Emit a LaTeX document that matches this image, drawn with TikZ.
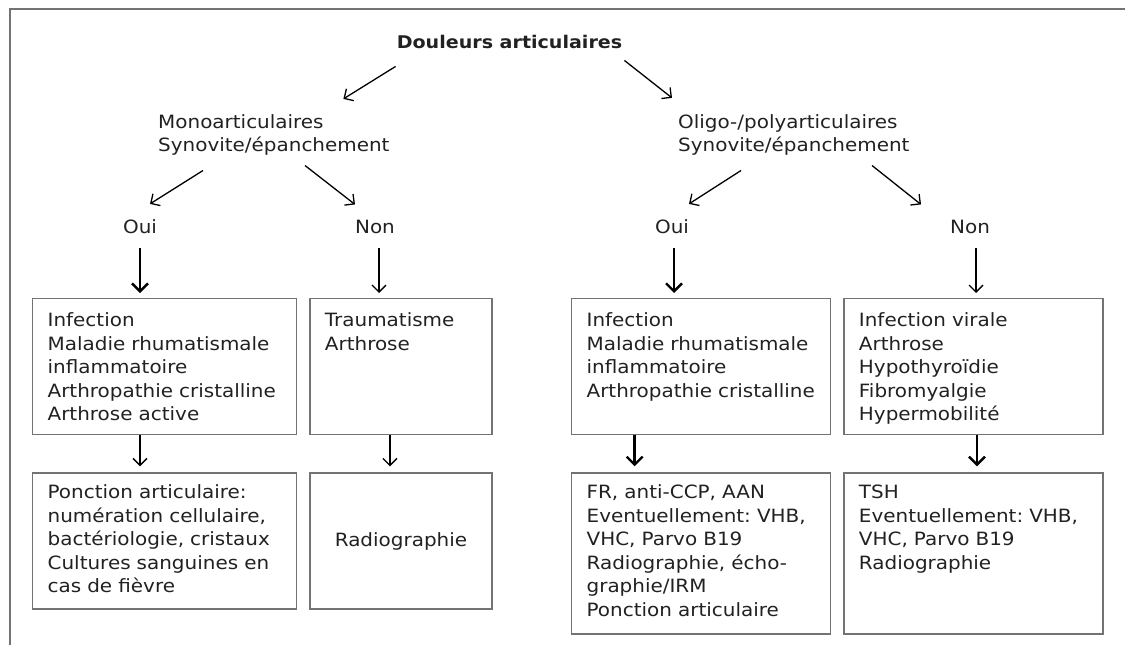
\documentclass[tikz,border=0pt]{standalone}
\usepackage{fontspec}
\setmainfont[FakeStretch=1.09]{DejaVu Sans}
\frenchspacing
\usetikzlibrary{positioning, calc, arrows.meta}
\definecolor{encre}{gray}{0.13}
\definecolor{cadre}{gray}{0.45}
\tikzset{txt/.style={inner sep=0pt, text=encre, font=\fontsize{18.3}{23.5}\selectfont}}
\tikzset{bloc/.style={txt, text width=240pt, align=left, anchor=base west}}
\tikzset{boite/.style={txt, draw=cadre, line width=1.3pt, inner xsep=15pt, inner ysep=0pt, text width=#1, align=left}}
\tikzset{fl/.style={draw, -{Straight Barb[length=7pt,width=14pt]}, line width=1.3pt}}
\tikzset{flg/.style={fl, -{Straight Barb[length=8pt,width=16pt]}, line width=2.4pt}}

\begin{document}
\begin{tikzpicture}[x=1pt, y=-1pt]
	\useasboundingbox (0,0) rectangle (1125,645);
	\draw[cadre, line width=1.8pt] (1125,9) -- (10,9) -- (10,645);
	%
	\node[txt, anchor=base, font=\bfseries\fontsize{17.5}{21}\selectfont] (titre) at (509.5,48) {Douleurs articulaires};
	\node[bloc] (mono) at (158,128) {Monoarticulaires\\Synovite/épanchement};
	\node[bloc] (oligo) at (678,128) {Oligo-/polyarticulaires\\Synovite/épanchement};
	%
	\node[txt, anchor=base] (ouiG) at (140,233) {Oui};
	\node[txt, anchor=base] (nonG) at (375,233) {Non};
	\node[txt, anchor=base] (ouiD) at (672,233) {Oui};
	\node[txt, anchor=base] (nonD) at (970,233) {Non};
	%
	\node[boite=234pt, anchor=north west, text height=28pt, text depth=108pt] (diagG1) at (32,298)
		{Infection\\Maladie rhumatismale\\inflammatoire\\Arthropathie cristalline\\Arthrose active};
	\node[boite=152pt, text height=28pt, text depth=108pt, right=12pt of diagG1] (diagG2)
		{Traumatisme\\Arthrose};
	\node[boite=229pt, anchor=north west, text height=28pt, text depth=108pt] (diagD1) at (571,298)
		{Infection\\Maladie rhumatismale\\inflammatoire\\Arthropathie cristalline};
	\node[boite=229pt, text height=28pt, text depth=108pt, right=12pt of diagD1] (diagD2)
		{Infection virale\\Arthrose\\Hypothyroïdie\\Fibromyalgie\\Hypermobilité};
	%
	\node[boite=234pt, text height=26pt, text depth=110pt, below=37pt of diagG1] (examG1)
		{Ponction articulaire:\\numération cellulaire,\\bactériologie, cristaux\\Cultures sanguines en\\cas de fièvre};
	\node[txt, draw=cadre, line width=1.3pt, minimum width=182pt, minimum height=136pt, below=37pt of diagG2] (examG2)
		{Radiographie};
	\node[boite=229pt, text height=26pt, text depth=135pt, below=37pt of diagD1] (examD1)
		{FR, anti-CCP, AAN\\Eventuellement: VHB,\\VHC, Parvo B19\\Radiographie, écho-\\graphie/IRM\\Ponction articulaire};
	\node[boite=229pt, text height=26pt, text depth=135pt, below=37pt of diagD2] (examD2)
		{TSH\\Eventuellement: VHB,\\VHC, Parvo B19\\Radiographie};
	%
	% premier partage
	\draw[fl] ([xshift=-1pt,yshift=-18pt]titre.south west) -- ([xshift=-55pt,yshift=15pt]mono.north east);
	\draw[fl] ([xshift=2pt,yshift=-12pt]titre.south east) -- ([xshift=-6pt,yshift=16pt]oligo.north west);
	\draw[fl] ([xshift=45pt,yshift=-15pt]mono.south west) -- ([xshift=10pt,yshift=15pt]ouiG.north);
	\draw[fl] ([xshift=147pt,yshift=-10pt]mono.south west) -- ([xshift=-20pt,yshift=15pt]nonG.north);
	\draw[fl] ([xshift=63pt,yshift=-15pt]oligo.south west) -- ([xshift=17pt,yshift=15pt]ouiD.north);
	\draw[fl] ([xshift=194pt,yshift=-10pt]oligo.south west) -- ([xshift=-49pt,yshift=15pt]nonD.north);
	%
	\draw[flg, shorten <=15pt, shorten >=5pt] (ouiG.south) -- (ouiG.south |- diagG1.north);
	\draw[fl, shorten <=15pt, shorten >=5pt] ($(nonG.south)+(4,0)$) -- ($(nonG.south |- diagG2.north)+(4,0)$);
	\draw[flg, shorten <=15pt, shorten >=5pt] ($(ouiD.south)+(2,0)$) -- ($(ouiD.south |- diagD1.north)+(2,0)$);
	\draw[fl, shorten <=15pt, shorten >=5pt] ($(nonD.south)+(6,0)$) -- ($(nonD.south |- diagD2.north)+(6,0)$);
	%
	\draw[fl, shorten >=6pt] (diagG1.south -| ouiG) -- (ouiG |- examG1.north);
	\draw[fl, shorten >=6pt] ($(diagG2.south)+(-11,0)$) -- ($(examG2.north)+(-11,0)$);
	\draw[flg, shorten >=6pt] ($(diagD1.south)+(-66.5,0)$) -- ($(examD1.north)+(-66.5,0)$);
	\draw[flg, shorten >=6pt] ($(diagD2.south)+(3.5,0)$) -- ($(examD2.north)+(3.5,0)$);
\end{tikzpicture}
\end{document}
